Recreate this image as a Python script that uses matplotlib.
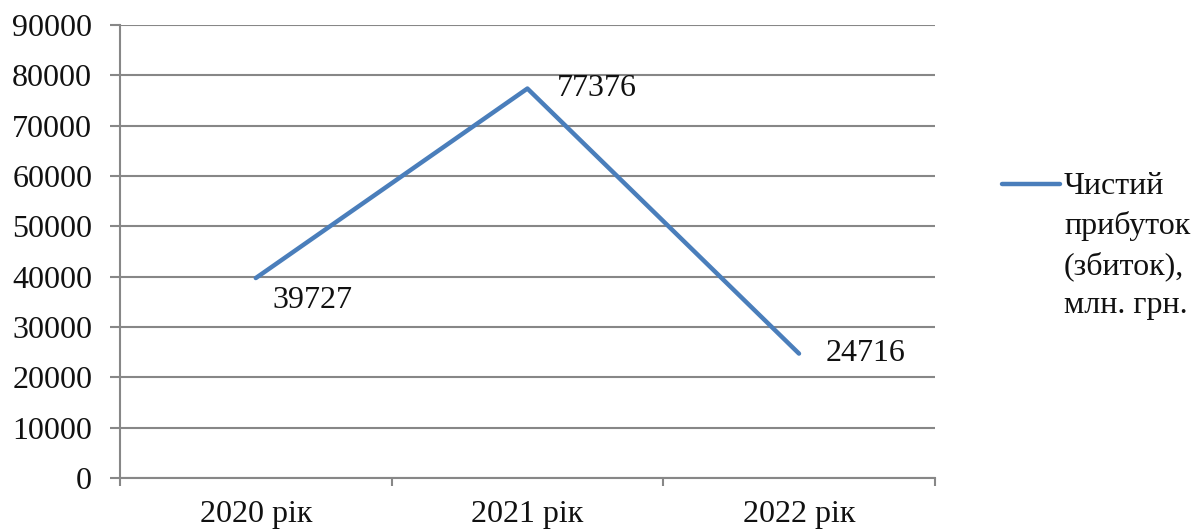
import numpy as np
import matplotlib
matplotlib.use("Agg")
import matplotlib.pyplot as plt
from matplotlib.lines import Line2D

# data
years = ["2020 рік", "2021 рік", "2022 рік"]
profit = [39727, 77376, 24716]
series_name = "Чистий\nприбуток\n(збиток),\nмлн. грн."
y_ticks = list(range(0, 90001, 10000))

plt.rcParams['font.family'] = ['Liberation Serif', 'DejaVu Serif']

fig = plt.figure(figsize=(12, 5.32), dpi=100)
ax = fig.add_axes([0.1, 0.1015, 0.679, 0.8515])

line_color = "#4A7EBB"
grid_color = "#878787"
fs = 23

x = np.arange(len(years))
ax.plot(x, profit, color=line_color, lw=3.2, solid_capstyle="round", zorder=3)

# data labels (Excel style, to the right of the point)
offsets = [(12, -16), (21, 0), (19, 0)]
for xi, val, off in zip(x, profit, offsets):
    ax.annotate(str(val), (xi, val), xytext=off, textcoords="offset points",
                ha="left", va="center", fontsize=fs, color="#111111")

ax.set_xlim(-0.5, len(years) - 0.5)
ax.set_ylim(0, 90000)
ax.set_yticks(y_ticks)
ax.set_yticklabels([str(v) for v in y_ticks])
ax.set_xticks(x)
ax.set_xticklabels(years)
ax.set_xticks(np.arange(-0.5, len(years)), minor=True)

ax.tick_params(axis="y", length=7, width=1.5, color=grid_color, pad=13,
               labelsize=fs, labelcolor="#111111")
ax.tick_params(axis="x", which="major", length=0, pad=16, labelsize=fs,
               labelcolor="#111111")
ax.tick_params(axis="x", which="minor", length=6, width=1.5, color=grid_color)

ax.grid(axis="y", color=grid_color, lw=1.5)
ax.set_axisbelow(True)
for side in ["top", "right"]:
    ax.spines[side].set_visible(False)
for side in ["left", "bottom"]:
    ax.spines[side].set_color(grid_color)
    ax.spines[side].set_linewidth(1.5)

# legend, Excel style: line key next to the first text line
ly = 1 - 184 / 532
fig.add_artist(Line2D([1002 / 1200, 1060 / 1200], [ly, ly], color=line_color,
                      lw=3.2, solid_capstyle="round"))
fig.text(1064 / 1200, 1 - 172 / 532, series_name, ha="left", va="top",
         fontsize=fs, linespacing=1.45, color="#111111")

fig.savefig("out.png", dpi=100)
